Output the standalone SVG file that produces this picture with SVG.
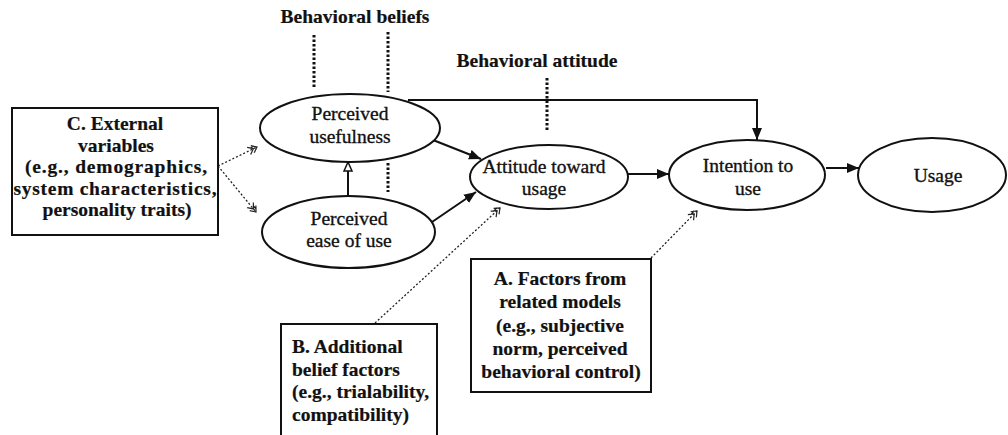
<svg xmlns="http://www.w3.org/2000/svg" width="1008" height="435" viewBox="0 0 1008 435">
  <style>
    .node { fill: #fff; stroke: #111; stroke-width: 2; }
    .box { fill: #fff; stroke: #111; stroke-width: 2; }
    .lbl { font-family: 'Liberation Serif', 'DejaVu Serif', serif; font-size: 19.5px; fill: #111; text-anchor: middle; stroke: #111; stroke-width: 0.35; }
    .bold { font-weight: bold; stroke-width: 0.2; }
    .left { text-anchor: start; }
    .arrow { fill: none; stroke: #111; stroke-width: 2; }
    .dots { fill: none; stroke: #111; stroke-width: 3; stroke-dasharray: 2.5 2; }
    .feed { fill: none; stroke: #222; stroke-width: 1.3; stroke-dasharray: 2 2; }
  </style>
  <defs>
    <marker id="solid" markerUnits="userSpaceOnUse" markerWidth="13" markerHeight="11" refX="12" refY="5" orient="auto">
      <path d="M0,0 L12,5 L0,10 Z" fill="#111"/>
    </marker>
    <marker id="open" markerUnits="userSpaceOnUse" markerWidth="12" markerHeight="11" refX="10" refY="5" orient="auto">
      <path d="M1,1 L10,5 L1,9 Z" fill="#fff" stroke="#111" stroke-width="1.5"/>
    </marker>
    <marker id="hatch" markerUnits="userSpaceOnUse" markerWidth="12" markerHeight="11" refX="10" refY="5" orient="auto">
      <path d="M1,1 L6,5 L1,9 M5,1 L10,5 L5,9 M3,3 L8,3" fill="none" stroke="#222" stroke-width="1.2"/>
    </marker>
  </defs>

  <!-- theme labels with their dotted markers -->
  <g id="behavioral-beliefs">
    <text class="lbl bold" x="355" y="23">Behavioral beliefs</text>
    <line class="dots" x1="314" y1="35" x2="314" y2="88"/>
    <line class="dots" x1="388" y1="32" x2="388" y2="92"/>
    <line class="dots" x1="388" y1="163" x2="388" y2="192"/>
  </g>
  <g id="behavioral-attitude">
    <text class="lbl bold" x="537" y="67">Behavioral attitude</text>
    <line class="dots" x1="547" y1="78" x2="547" y2="130"/>
  </g>

  <!-- connectors -->
  <g id="connectors">
    <path class="arrow" d="M408,100 H757 V140" marker-end="url(#solid)"/>
    <line class="arrow" x1="433" y1="140" x2="481" y2="159" marker-end="url(#solid)"/>
    <line class="arrow" x1="432" y1="222" x2="476" y2="192" marker-end="url(#solid)"/>
    <line class="arrow" x1="348" y1="196" x2="348" y2="162" stroke-width="1.5" marker-end="url(#open)"/>
    <line class="arrow" x1="628" y1="174" x2="669" y2="174" marker-end="url(#solid)"/>
    <line class="arrow" x1="826" y1="168" x2="859" y2="168" marker-end="url(#solid)"/>
    <line class="feed" x1="218" y1="166" x2="257" y2="147" marker-end="url(#hatch)"/>
    <line class="feed" x1="218" y1="166" x2="256" y2="212" marker-end="url(#hatch)"/>
    <line class="feed" x1="375" y1="323" x2="500" y2="208" marker-end="url(#hatch)"/>
    <line class="feed" x1="651" y1="258" x2="697" y2="211" marker-end="url(#hatch)"/>
  </g>

  <!-- construct ellipses -->
  <g id="perceived-usefulness">
    <ellipse class="node" cx="350" cy="128" rx="90" ry="34"/>
    <text class="lbl" x="350" y="120">Perceived</text>
    <text class="lbl" x="350" y="143">usefulness</text>
  </g>
  <g id="perceived-ease">
    <ellipse class="node" cx="348.5" cy="232" rx="86.5" ry="36"/>
    <text class="lbl" x="349" y="225">Perceived</text>
    <text class="lbl" x="349" y="247">ease of use</text>
  </g>
  <g id="attitude">
    <ellipse class="node" cx="549" cy="177" rx="79" ry="32"/>
    <text class="lbl" x="544" y="173">Attitude toward</text>
    <text class="lbl" x="544" y="195">usage</text>
  </g>
  <g id="intention">
    <ellipse class="node" cx="747" cy="175" rx="78" ry="35"/>
    <text class="lbl" x="748" y="172">Intention to</text>
    <text class="lbl" x="748" y="195">use</text>
  </g>
  <g id="usage">
    <ellipse class="node" cx="932" cy="175" rx="74" ry="37"/>
    <text class="lbl" x="938" y="182">Usage</text>
  </g>

  <!-- factor boxes -->
  <g id="external-variables">
    <rect class="box" x="12" y="108" width="206" height="127"/>
    <text class="lbl bold" x="115" y="130">C. External</text>
    <text class="lbl bold" x="116" y="152">variables</text>
    <text class="lbl bold" x="116" y="173" textLength="182">(e.g., demographics,</text>
    <text class="lbl bold" x="115" y="195" textLength="203">system characteristics,</text>
    <text class="lbl bold" x="117" y="216">personality traits)</text>
  </g>
  <g id="additional-beliefs">
    <path class="box" d="M281,437 V324 H437 V437"/>
    <text class="lbl bold left" x="292" y="353">B. Additional</text>
    <text class="lbl bold left" x="292" y="376">belief factors</text>
    <text class="lbl bold left" x="292" y="398">(e.g., trialability,</text>
    <text class="lbl bold left" x="292" y="421">compatibility)</text>
  </g>
  <g id="related-models">
    <rect class="box" x="471" y="259" width="180" height="133"/>
    <text class="lbl bold" x="560" y="285">A. Factors from</text>
    <text class="lbl bold" x="560" y="308">related models</text>
    <text class="lbl bold" x="560" y="332">(e.g., subjective</text>
    <text class="lbl bold" x="560" y="355">norm, perceived</text>
    <text class="lbl bold" x="561" y="378">behavioral control)</text>
  </g>
</svg>
